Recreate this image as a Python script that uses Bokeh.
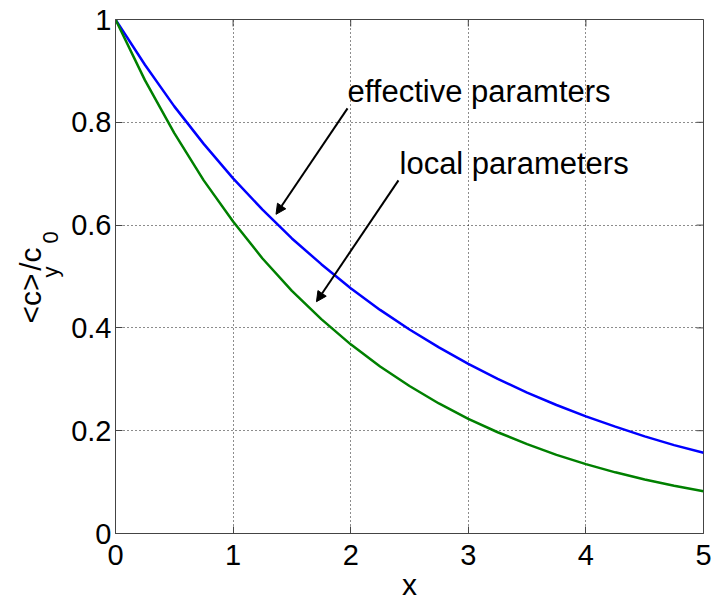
import math

from bokeh.plotting import figure
from bokeh.layouts import row
from bokeh.models import (ColumnDataSource, FixedTicker, Label, Arrow,
                          NormalHead, Range1d)
from bokeh.core.properties import value
from bokeh.embed import file_html
from bokeh.resources import INLINE

# Normalised mean concentration along x for the two parameter sets
x_vals = [0.0, 0.25, 0.5, 0.75, 1.0, 1.25, 1.5, 1.75, 2.0, 2.25, 2.5,
          2.75, 3.0, 3.25, 3.5, 3.75, 4.0, 4.25, 4.5, 4.75, 5.0]
effective = [1.0, 0.912, 0.831, 0.758, 0.691, 0.630, 0.574, 0.524, 0.477,
             0.435, 0.397, 0.362, 0.330, 0.301, 0.274, 0.250, 0.228, 0.208,
             0.189, 0.172, 0.157]
local = [1.0, 0.882, 0.779, 0.687, 0.607, 0.535, 0.472, 0.417, 0.368,
         0.325, 0.287, 0.253, 0.223, 0.197, 0.174, 0.153, 0.135, 0.119,
         0.105, 0.093, 0.082]

x_ticks = [0, 1, 2, 3, 4, 5]
y_ticks = [0, 0.2, 0.4, 0.6, 0.8, 1]
y_tick_labels = ["0", "0.2", "0.4", "0.6", "0.8", "1"]

FONT = "Liberation Sans"
TICK_SIZE = "29px"
AXIS_GREY = "#444444"
H = 600
LEFT_W = 66

src = ColumnDataSource(dict(x=x_vals, eff=effective, loc=local))

p = figure(width=712 - LEFT_W, height=H, output_backend="svg",
           toolbar_location=None, title=None,
           x_range=Range1d(0, 5), y_range=Range1d(0, 1),
           frame_width=588, frame_height=514,
           min_border_left=115 - LEFT_W, min_border_right=9,
           min_border_top=19, min_border_bottom=67,
           background_fill_color="white", border_fill_color="white")
p.outline_line_color = AXIS_GREY
p.outline_line_width = 1

# main axes: ticks pointing inward
for ax in (p.xaxis[0], p.yaxis[0]):
    ax.major_tick_in = 7
    ax.major_tick_out = 0
    ax.minor_tick_in = 0
    ax.minor_tick_out = 0
    ax.axis_line_color = AXIS_GREY
    ax.major_tick_line_color = AXIS_GREY
    ax.major_label_text_font = FONT
    ax.major_label_text_font_size = TICK_SIZE
    ax.major_label_text_color = "black"

p.xaxis.ticker = FixedTicker(ticks=x_ticks)
p.yaxis.ticker = FixedTicker(ticks=y_ticks)
p.yaxis.major_label_overrides = {t: s for t, s in zip(y_ticks, y_tick_labels)}
p.xaxis.major_label_standoff = 11
p.yaxis.major_label_standoff = 4

p.xaxis.axis_label = "x"
p.xaxis.axis_label_text_font = FONT
p.xaxis.axis_label_text_font_size = "30px"
p.xaxis.axis_label_text_font_style = "normal"
p.xaxis.axis_label_text_color = "black"
p.xaxis.axis_label_standoff = 0
p.yaxis.axis_label = None

# inward ticks along the top and right edges of the box
tick_dx = 7 / 117.6
tick_dy = 7 / 514
p.segment(x0=x_ticks, y0=[1] * len(x_ticks), x1=x_ticks,
          y1=[1 - tick_dy] * len(x_ticks), line_color=AXIS_GREY, line_width=1)
p.segment(x0=[5] * len(y_ticks), y0=y_ticks, x1=[5 - tick_dx] * len(y_ticks),
          y1=y_ticks, line_color=AXIS_GREY, line_width=1)

# dotted grid
for g in (p.xgrid[0], p.ygrid[0]):
    g.grid_line_color = "black"
    g.grid_line_dash = "1 3"
    g.grid_line_width = 1
    g.grid_line_alpha = 0.9
p.xgrid.ticker = FixedTicker(ticks=x_ticks)
p.ygrid.ticker = FixedTicker(ticks=y_ticks)

# curves
p.line("x", "eff", source=src, line_color="#0000ff", line_width=2.5)
p.line("x", "loc", source=src, line_color="#008000", line_width=2.5)

# annotations
p.add_layout(Label(x=1.973, y=0.860, text="effective paramters",
                   text_font=FONT, text_font_size="31px", text_color="black",
                   text_baseline="alphabetic", text_align="left"))
p.add_layout(Label(x=2.415, y=0.720, text="local parameters",
                   text_font=FONT, text_font_size="31px", text_color="black",
                   text_baseline="alphabetic", text_align="left"))
p.add_layout(Arrow(x_start=1.973, y_start=0.827, x_end=1.365, y_end=0.621,
                   line_width=2, line_color="black",
                   end=NormalHead(size=10, fill_color="black", line_color="black")))
p.add_layout(Arrow(x_start=2.406, y_start=0.687, x_end=1.709, y_end=0.451,
                   line_width=2, line_color="black",
                   end=NormalHead(size=10, fill_color="black", line_color="black")))

# narrow strip on the left carrying the rotated y title "<c>_y / c_0"
# (pixel coordinates: x from the left edge, y from the top of the page)
lab = figure(width=LEFT_W, height=H, output_backend="svg",
             toolbar_location=None, title=None,
             x_range=Range1d(0, LEFT_W), y_range=Range1d(0, H), min_border=0,
             x_axis_location=None, y_axis_location=None,
             background_fill_color="white", border_fill_color="white")
lab.grid.visible = False
lab.outline_line_color = None

main_src = ColumnDataSource(dict(x=[30, 30], y=[H - 357, H - 295],
                                 t=["<c>", "/c"]))
sub_src = ColumnDataSource(dict(x=[50, 50], y=[H - 303, H - 263],
                                t=["y", "0"]))
lab.text(x="x", y="y", text="t", source=main_src, angle=math.pi / 2,
         text_font=value(FONT), text_font_size="30px", text_color="black",
         text_baseline="alphabetic", text_align="left")
lab.text(x="x", y="y", text="t", source=sub_src, angle=math.pi / 2,
         text_font=value(FONT), text_font_size="22px", text_color="black",
         text_baseline="alphabetic", text_align="left")

layout = row(lab, p, spacing=0)

with open("out.html", "w") as f:
    f.write(file_html(layout, INLINE))
